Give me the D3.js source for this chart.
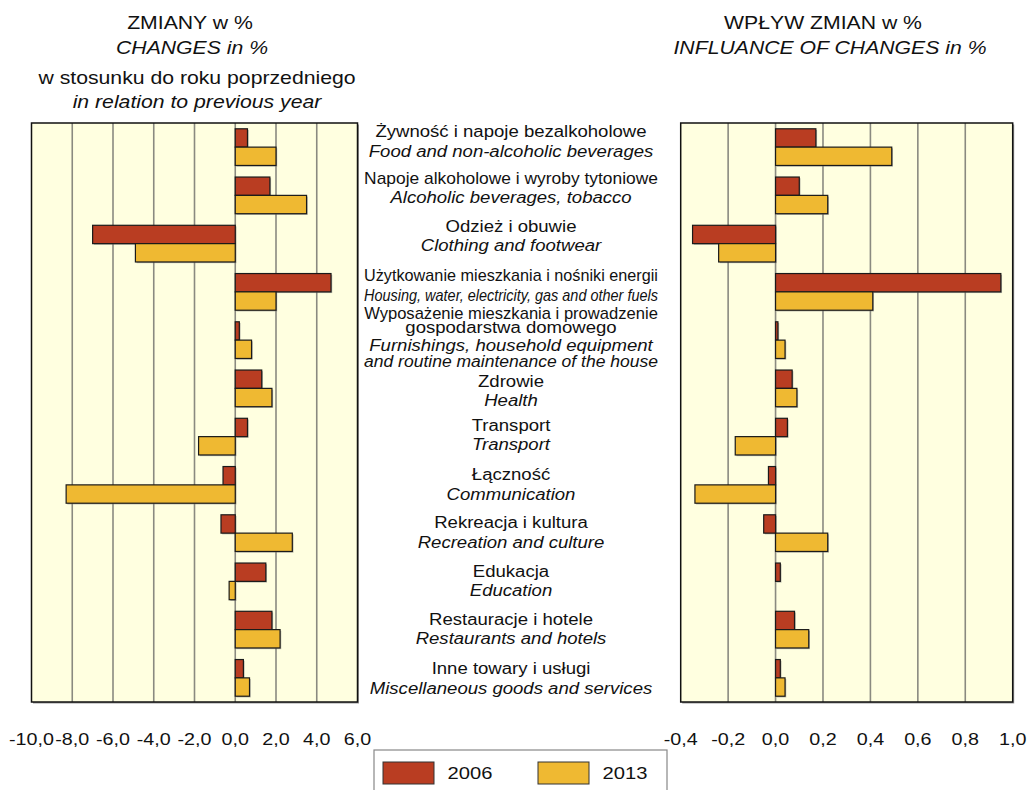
<!DOCTYPE html>
<html>
<head>
<meta charset="utf-8">
<script src="https://cdn.jsdelivr.net/npm/d3@7"></script>
<style>
  body { margin: 0; background: #fff; }
  svg { display: block; font-family: "Liberation Sans", Arial, sans-serif; }
</style>
</head>
<body>
<svg id="chart" width="1030" height="790"></svg>
<script>
// categories (Polish / English, "|" = line break)
var labelsPl = [
    "Żywność i napoje bezalkoholowe",
    "Napoje alkoholowe i wyroby tytoniowe",
    "Odzież i obuwie",
    "Użytkowanie mieszkania i nośniki energii",
    "Wyposażenie mieszkania i prowadzenie|gospodarstwa domowego",
    "Zdrowie",
    "Transport",
    "Łączność",
    "Rekreacja i kultura",
    "Edukacja",
    "Restauracje i hotele",
    "Inne towary i usługi"
];
var labelsEn = [
    "Food and non-alcoholic beverages",
    "Alcoholic beverages, tobacco",
    "Clothing and footwear",
    "Housing, water, electricity, gas and other fuels",
    "Furnishings, household equipment|and routine maintenance of the house",
    "Health",
    "Transport",
    "Communication",
    "Recreation and culture",
    "Education",
    "Restaurants and hotels",
    "Miscellaneous goods and services"
];
var years = ["2006", "2013"];

// changes in % in relation to previous year
var changes2006 = [0.6, 1.7, -7.0, 4.7, 0.2, 1.3, 0.6, -0.6, -0.7, 1.5, 1.8, 0.4];
var changes2013 = [2.0, 3.5, -4.9, 2.0, 0.8, 1.8, -1.8, -8.3, 2.8, -0.3, 2.2, 0.7];

// influence of changes in %
var influence2006 = [0.17, 0.10, -0.35, 0.95, 0.01, 0.07, 0.05, -0.03, -0.05, 0.02, 0.08, 0.02];
var influence2013 = [0.49, 0.22, -0.24, 0.41, 0.04, 0.09, -0.17, -0.34, 0.22, 0.00, 0.14, 0.04];

var changesTicks = [-10, -8, -6, -4, -2, 0, 2, 4, 6];
var influenceTicks = [-0.4, -0.2, 0, 0.2, 0.4, 0.6, 0.8, 1.0];

var colors = { "2006": "#b93d22", "2013": "#efb932" };
var SX = 1.16; // text in the original is a bit stretched horizontally

var svg = d3.select("#chart");

function addText(parent, x, y, str, size, italic, maxW) {
    var t = parent.append("text")
        .attr("text-anchor", "middle")
        .style("font-size", size + "px")
        .style("font-style", italic ? "italic" : "normal")
        .style("fill", "#111")
        .text(str);
    var sx = SX;
    if (maxW) {
        var w = t.node().getComputedTextLength();
        if (w * sx > maxW) sx = maxW / w;
    }
    t.attr("transform", "translate(" + x + "," + y + ") scale(" + sx + ",1)");
    return t;
}

var plotTop = 123, plotBottom = 702;

var yBand = d3.scaleBand()
    .domain(d3.range(labelsPl.length))
    .range([plotTop, plotBottom])
    .paddingInner(0.24)
    .paddingOuter(0.12);

var ySub = d3.scaleBand()
    .domain(years)
    .range([0, yBand.bandwidth()]);

function fmt(v) {
    return d3.format(".1f")(v).replace("−", "-").replace(".", ",");
}

function drawPanel(x, ticks, s2006, s2013) {
    var g = svg.append("g");
    var x0 = x.range()[0], x1 = x.range()[1];

    // frame shadow + background
    g.append("rect")
        .attr("x", x0 + 1.5).attr("y", plotTop + 1.5)
        .attr("width", x1 - x0).attr("height", plotBottom - plotTop)
        .style("fill", "#999");
    g.append("rect")
        .attr("x", x0).attr("y", plotTop)
        .attr("width", x1 - x0).attr("height", plotBottom - plotTop)
        .style("fill", "#ffffe0");

    // grid lines
    g.selectAll("line.grid")
        .data(ticks.slice(1, ticks.length - 1))
        .enter().append("line")
        .attr("class", "grid")
        .attr("x1", function (d) { return x(d); })
        .attr("x2", function (d) { return x(d); })
        .attr("y1", plotTop)
        .attr("y2", plotBottom)
        .style("stroke", "#8a8a80")
        .style("stroke-width", 1.6);

    var rows = [];
    for (var i = 0; i < s2006.length; i++) {
        rows.push({ i: i, year: "2006", v: s2006[i] });
        rows.push({ i: i, year: "2013", v: s2013[i] });
    }
    rows = rows.filter(function (d) { return d.v !== 0; });

    // soft shadow
    g.selectAll("rect.shadow")
        .data(rows)
        .enter().append("rect")
        .attr("class", "shadow")
        .attr("x", function (d) { return Math.min(x(0), x(d.v)) + 1.2; })
        .attr("y", function (d) { return yBand(d.i) + ySub(d.year) + 1.2; })
        .attr("width", function (d) { return Math.abs(x(d.v) - x(0)); })
        .attr("height", ySub.bandwidth())
        .style("fill", "#777")
        .style("opacity", 0.55);

    g.selectAll("rect.bar")
        .data(rows)
        .enter().append("rect")
        .attr("class", "bar")
        .attr("x", function (d) { return Math.min(x(0), x(d.v)); })
        .attr("y", function (d) { return yBand(d.i) + ySub(d.year); })
        .attr("width", function (d) { return Math.abs(x(d.v) - x(0)); })
        .attr("height", ySub.bandwidth())
        .style("fill", function (d) { return colors[d.year]; })
        .style("stroke", "#1a1a1a")
        .style("stroke-width", 1.2);

    // frame
    g.append("rect")
        .attr("x", x0).attr("y", plotTop)
        .attr("width", x1 - x0).attr("height", plotBottom - plotTop)
        .style("fill", "none")
        .style("stroke", "#111")
        .style("stroke-width", 1.5);

    // tick labels
    var ax = g.append("g");
    ticks.forEach(function (t) {
        addText(ax, x(t), 745, fmt(t), 17, false);
    });
}

var xChanges = d3.scaleLinear().domain([-10, 6]).range([31.5, 357.5]);
var xInfluence = d3.scaleLinear().domain([-0.4, 1.0]).range([680.7, 1012.7]);

drawPanel(xChanges, changesTicks, changes2006, changes2013);
drawPanel(xInfluence, influenceTicks, influence2006, influence2013);

// titles
var titles = svg.append("g");
addText(titles, 190, 29, "ZMIANY w %", 18.3, false);
addText(titles, 192, 54, "CHANGES in %", 18.3, true);
addText(titles, 197, 84, "w stosunku do roku poprzedniego", 18.3, false);
addText(titles, 197, 108, "in relation to previous year", 18.3, true);
addText(titles, 823, 29, "WPŁYW ZMIAN w %", 18.3, false);
addText(titles, 830, 54, "INFLUANCE OF CHANGES in %", 18.3, true);

// category labels between the panels
// the upper labels sit a little above their bars in the original
var labelNudge = [-4, -6, -6, -5, -1, 4, 0, 1, 1, 1, 1, 2];
var labels = svg.append("g");
labelsPl.forEach(function (pl, i) {
    var pls = pl.split("|"), ens = labelsEn[i].split("|");
    var multi = pls.length + ens.length > 2;
    var lhIn = multi ? 14 : 19.5;   // spacing inside one language block
    var lhGap = multi ? 18 : 19.5;  // spacing between Polish and English
    var ys = [], yy = 0;
    pls.forEach(function (s, k) { if (k) yy += lhIn; ys.push({ s: s, it: false, y: yy }); });
    ens.forEach(function (s, k) { yy += k ? (multi ? 16 : lhIn) : lhGap; ys.push({ s: s, it: true, y: yy }); });
    var cy = yBand(i) + yBand.bandwidth() / 2 - 2 + labelNudge[i];
    var y0 = cy - yy / 2 + 6;
    ys.forEach(function (ln) {
        addText(labels, 511, y0 + ln.y, ln.s, 16, ln.it, 294);
    });
});

// legend
var legend = svg.append("g");
legend.append("rect")
    .attr("x", 374).attr("y", 750)
    .attr("width", 293).attr("height", 60)
    .style("fill", "#fff")
    .style("stroke", "#888")
    .style("stroke-width", 1.2);
var legendX = d3.scalePoint().domain(years).range([383, 538]);
years.forEach(function (yr) {
    legend.append("rect")
        .attr("x", legendX(yr)).attr("y", 762)
        .attr("width", 51).attr("height", 22)
        .style("fill", colors[yr])
        .style("stroke", "#333")
        .style("stroke-width", 1);
    addText(legend, legendX(yr) + 87, 779, yr, 17.4, false);
});
</script>
</body>
</html>
